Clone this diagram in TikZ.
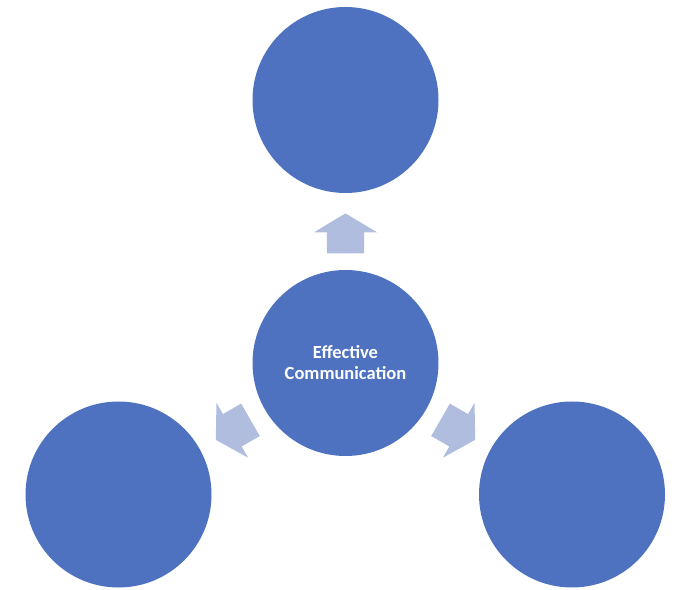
\documentclass[tikz,border=0pt]{standalone}
\usepackage{fontspec}
\setsansfont{Carlito}
\usetikzlibrary{
    shapes.arrows,
    positioning
}
\definecolor{ringblue}{HTML}{4E72BF}
\definecolor{arrowblue}{HTML}{B1BDDF}

\begin{document}
\begin{tikzpicture}[x=1pt, y=1pt,
    bubble/.style={circle, fill=ringblue, minimum size=186pt, inner sep=0pt,
        text=white, align=center, font=\sffamily\bfseries\fontsize{18.5}{21}\selectfont},
    pointer/.style={single arrow, fill=arrowblue, inner xsep=0pt, inner ysep=18.5pt,
        minimum height=40pt,
        single arrow head extend=13pt, single arrow tip angle=118}]
    \useasboundingbox (0, 0) rectangle (677, 589);
    \node[bubble] (hub) at (345.5, 226) {Effective\\Communication};
    \node[bubble] (top) at (345.5, 489) {};
    \node[bubble] (left) at (118.5, 94.5) {};
    \node[bubble] (right) at (572, 94.5) {};
    \node[pointer, rotate=90] (toTop) at (345.5, 350) {};
    \node[pointer, rotate=210] (toLeft) at (238, 162) {};
    \node[pointer, rotate=330] (toRight) at (453, 162) {};
\end{tikzpicture}
\end{document}
